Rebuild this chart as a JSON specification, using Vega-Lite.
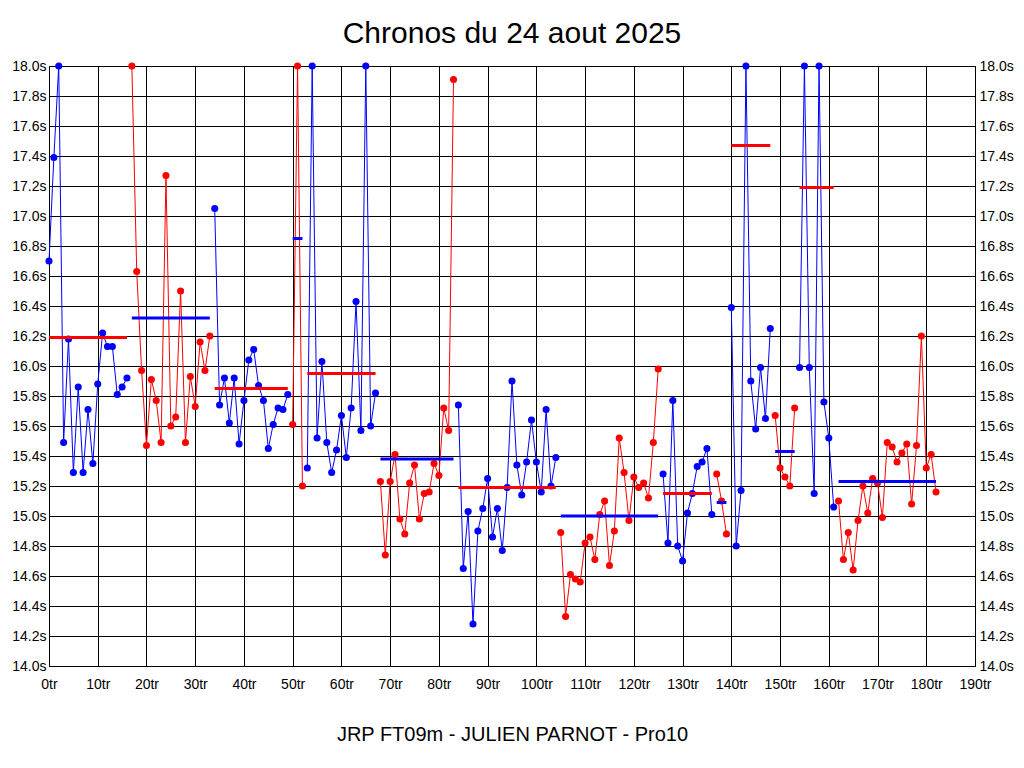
{
  "$schema": "https://vega.github.io/schema/vega-lite/v6.json",
  "width": 926,
  "height": 600,
  "autosize": {"type": "none"},
  "padding": {"left": 49, "top": 66, "right": 49, "bottom": 102},
  "background": "white",
  "title": {
    "text": "Chronos du 24 aout 2025",
    "fontSize": 30,
    "font": "Liberation Sans",
    "fontWeight": "normal",
    "color": "black",
    "anchor": "middle",
    "offset": 10
  },
  "config": {
    "font": "Liberation Sans",
    "view": {"stroke": "black", "strokeWidth": 1},
    "axis": {
      "gridColor": "black",
      "gridOpacity": 1,
      "gridWidth": 1,
      "ticks": false,
      "domain": false,
      "labelFont": "Liberation Sans",
      "labelFontSize": 14,
      "labelColor": "black",
      "labelFlush": false,
      "labelOverlap": false,
      "labelBound": false,
      "titleColor": "black",
      "titleFont": "Liberation Sans"
    }
  },
  "datasets": {
    "laps": [
      {"lap": 0, "t": 16.70, "seg": 1, "c": "b"},
      {"lap": 1, "t": 17.39, "seg": 1, "c": "b"},
      {"lap": 2, "t": 18.00, "seg": 1, "c": "b"},
      {"lap": 3, "t": 15.49, "seg": 1, "c": "b"},
      {"lap": 4, "t": 16.18, "seg": 1, "c": "b"},
      {"lap": 5, "t": 15.29, "seg": 1, "c": "b"},
      {"lap": 6, "t": 15.86, "seg": 1, "c": "b"},
      {"lap": 7, "t": 15.29, "seg": 1, "c": "b"},
      {"lap": 8, "t": 15.71, "seg": 1, "c": "b"},
      {"lap": 9, "t": 15.35, "seg": 1, "c": "b"},
      {"lap": 10, "t": 15.88, "seg": 1, "c": "b"},
      {"lap": 11, "t": 16.22, "seg": 1, "c": "b"},
      {"lap": 12, "t": 16.13, "seg": 1, "c": "b"},
      {"lap": 13, "t": 16.13, "seg": 1, "c": "b"},
      {"lap": 14, "t": 15.81, "seg": 1, "c": "b"},
      {"lap": 15, "t": 15.86, "seg": 1, "c": "b"},
      {"lap": 16, "t": 15.92, "seg": 1, "c": "b"},
      {"lap": 17, "t": 18.00, "seg": 2, "c": "r"},
      {"lap": 18, "t": 16.63, "seg": 2, "c": "r"},
      {"lap": 19, "t": 15.97, "seg": 2, "c": "r"},
      {"lap": 20, "t": 15.47, "seg": 2, "c": "r"},
      {"lap": 21, "t": 15.91, "seg": 2, "c": "r"},
      {"lap": 22, "t": 15.77, "seg": 2, "c": "r"},
      {"lap": 23, "t": 15.49, "seg": 2, "c": "r"},
      {"lap": 24, "t": 17.27, "seg": 2, "c": "r"},
      {"lap": 25, "t": 15.60, "seg": 2, "c": "r"},
      {"lap": 26, "t": 15.66, "seg": 2, "c": "r"},
      {"lap": 27, "t": 16.50, "seg": 2, "c": "r"},
      {"lap": 28, "t": 15.49, "seg": 2, "c": "r"},
      {"lap": 29, "t": 15.93, "seg": 2, "c": "r"},
      {"lap": 30, "t": 15.73, "seg": 2, "c": "r"},
      {"lap": 31, "t": 16.16, "seg": 2, "c": "r"},
      {"lap": 32, "t": 15.97, "seg": 2, "c": "r"},
      {"lap": 33, "t": 16.20, "seg": 2, "c": "r"},
      {"lap": 34, "t": 17.05, "seg": 3, "c": "b"},
      {"lap": 35, "t": 15.74, "seg": 3, "c": "b"},
      {"lap": 36, "t": 15.92, "seg": 3, "c": "b"},
      {"lap": 37, "t": 15.62, "seg": 3, "c": "b"},
      {"lap": 38, "t": 15.92, "seg": 3, "c": "b"},
      {"lap": 39, "t": 15.48, "seg": 3, "c": "b"},
      {"lap": 40, "t": 15.77, "seg": 3, "c": "b"},
      {"lap": 41, "t": 16.04, "seg": 3, "c": "b"},
      {"lap": 42, "t": 16.11, "seg": 3, "c": "b"},
      {"lap": 43, "t": 15.87, "seg": 3, "c": "b"},
      {"lap": 44, "t": 15.77, "seg": 3, "c": "b"},
      {"lap": 45, "t": 15.45, "seg": 3, "c": "b"},
      {"lap": 46, "t": 15.61, "seg": 3, "c": "b"},
      {"lap": 47, "t": 15.72, "seg": 3, "c": "b"},
      {"lap": 48, "t": 15.71, "seg": 3, "c": "b"},
      {"lap": 49, "t": 15.81, "seg": 3, "c": "b"},
      {"lap": 50, "t": 15.61, "seg": 4, "c": "r"},
      {"lap": 51, "t": 18.00, "seg": 4, "c": "r"},
      {"lap": 52, "t": 15.20, "seg": 4, "c": "r"},
      {"lap": 53, "t": 15.32, "seg": 5, "c": "b"},
      {"lap": 54, "t": 18.00, "seg": 5, "c": "b"},
      {"lap": 55, "t": 15.52, "seg": 5, "c": "b"},
      {"lap": 56, "t": 16.03, "seg": 5, "c": "b"},
      {"lap": 57, "t": 15.49, "seg": 5, "c": "b"},
      {"lap": 58, "t": 15.29, "seg": 5, "c": "b"},
      {"lap": 59, "t": 15.44, "seg": 5, "c": "b"},
      {"lap": 60, "t": 15.67, "seg": 5, "c": "b"},
      {"lap": 61, "t": 15.39, "seg": 5, "c": "b"},
      {"lap": 62, "t": 15.72, "seg": 5, "c": "b"},
      {"lap": 63, "t": 16.43, "seg": 5, "c": "b"},
      {"lap": 64, "t": 15.57, "seg": 5, "c": "b"},
      {"lap": 65, "t": 18.00, "seg": 5, "c": "b"},
      {"lap": 66, "t": 15.60, "seg": 5, "c": "b"},
      {"lap": 67, "t": 15.82, "seg": 5, "c": "b"},
      {"lap": 68, "t": 15.23, "seg": 6, "c": "r"},
      {"lap": 69, "t": 14.74, "seg": 6, "c": "r"},
      {"lap": 70, "t": 15.23, "seg": 6, "c": "r"},
      {"lap": 71, "t": 15.41, "seg": 6, "c": "r"},
      {"lap": 72, "t": 14.98, "seg": 6, "c": "r"},
      {"lap": 73, "t": 14.88, "seg": 6, "c": "r"},
      {"lap": 74, "t": 15.22, "seg": 6, "c": "r"},
      {"lap": 75, "t": 15.34, "seg": 6, "c": "r"},
      {"lap": 76, "t": 14.98, "seg": 6, "c": "r"},
      {"lap": 77, "t": 15.15, "seg": 6, "c": "r"},
      {"lap": 78, "t": 15.16, "seg": 6, "c": "r"},
      {"lap": 79, "t": 15.35, "seg": 6, "c": "r"},
      {"lap": 80, "t": 15.27, "seg": 6, "c": "r"},
      {"lap": 81, "t": 15.72, "seg": 6, "c": "r"},
      {"lap": 82, "t": 15.57, "seg": 6, "c": "r"},
      {"lap": 83, "t": 17.91, "seg": 6, "c": "r"},
      {"lap": 84, "t": 15.74, "seg": 7, "c": "b"},
      {"lap": 85, "t": 14.65, "seg": 7, "c": "b"},
      {"lap": 86, "t": 15.03, "seg": 7, "c": "b"},
      {"lap": 87, "t": 14.28, "seg": 7, "c": "b"},
      {"lap": 88, "t": 14.90, "seg": 7, "c": "b"},
      {"lap": 89, "t": 15.05, "seg": 7, "c": "b"},
      {"lap": 90, "t": 15.25, "seg": 7, "c": "b"},
      {"lap": 91, "t": 14.86, "seg": 7, "c": "b"},
      {"lap": 92, "t": 15.05, "seg": 7, "c": "b"},
      {"lap": 93, "t": 14.77, "seg": 7, "c": "b"},
      {"lap": 94, "t": 15.19, "seg": 7, "c": "b"},
      {"lap": 95, "t": 15.90, "seg": 7, "c": "b"},
      {"lap": 96, "t": 15.34, "seg": 7, "c": "b"},
      {"lap": 97, "t": 15.14, "seg": 7, "c": "b"},
      {"lap": 98, "t": 15.36, "seg": 7, "c": "b"},
      {"lap": 99, "t": 15.64, "seg": 7, "c": "b"},
      {"lap": 100, "t": 15.36, "seg": 7, "c": "b"},
      {"lap": 101, "t": 15.16, "seg": 7, "c": "b"},
      {"lap": 102, "t": 15.71, "seg": 7, "c": "b"},
      {"lap": 103, "t": 15.20, "seg": 7, "c": "b"},
      {"lap": 104, "t": 15.39, "seg": 7, "c": "b"},
      {"lap": 105, "t": 14.89, "seg": 8, "c": "r"},
      {"lap": 106, "t": 14.33, "seg": 8, "c": "r"},
      {"lap": 107, "t": 14.61, "seg": 8, "c": "r"},
      {"lap": 108, "t": 14.58, "seg": 8, "c": "r"},
      {"lap": 109, "t": 14.56, "seg": 8, "c": "r"},
      {"lap": 110, "t": 14.82, "seg": 8, "c": "r"},
      {"lap": 111, "t": 14.86, "seg": 8, "c": "r"},
      {"lap": 112, "t": 14.71, "seg": 8, "c": "r"},
      {"lap": 113, "t": 15.01, "seg": 8, "c": "r"},
      {"lap": 114, "t": 15.10, "seg": 8, "c": "r"},
      {"lap": 115, "t": 14.67, "seg": 8, "c": "r"},
      {"lap": 116, "t": 14.90, "seg": 8, "c": "r"},
      {"lap": 117, "t": 15.52, "seg": 8, "c": "r"},
      {"lap": 118, "t": 15.29, "seg": 8, "c": "r"},
      {"lap": 119, "t": 14.97, "seg": 8, "c": "r"},
      {"lap": 120, "t": 15.26, "seg": 8, "c": "r"},
      {"lap": 121, "t": 15.19, "seg": 8, "c": "r"},
      {"lap": 122, "t": 15.22, "seg": 8, "c": "r"},
      {"lap": 123, "t": 15.12, "seg": 8, "c": "r"},
      {"lap": 124, "t": 15.49, "seg": 8, "c": "r"},
      {"lap": 125, "t": 15.98, "seg": 8, "c": "r"},
      {"lap": 126, "t": 15.28, "seg": 9, "c": "b"},
      {"lap": 127, "t": 14.82, "seg": 9, "c": "b"},
      {"lap": 128, "t": 15.77, "seg": 9, "c": "b"},
      {"lap": 129, "t": 14.80, "seg": 9, "c": "b"},
      {"lap": 130, "t": 14.70, "seg": 9, "c": "b"},
      {"lap": 131, "t": 15.02, "seg": 9, "c": "b"},
      {"lap": 132, "t": 15.15, "seg": 9, "c": "b"},
      {"lap": 133, "t": 15.33, "seg": 9, "c": "b"},
      {"lap": 134, "t": 15.36, "seg": 9, "c": "b"},
      {"lap": 135, "t": 15.45, "seg": 9, "c": "b"},
      {"lap": 136, "t": 15.01, "seg": 9, "c": "b"},
      {"lap": 137, "t": 15.28, "seg": 10, "c": "r"},
      {"lap": 138, "t": 15.10, "seg": 10, "c": "r"},
      {"lap": 139, "t": 14.88, "seg": 10, "c": "r"},
      {"lap": 140, "t": 16.39, "seg": 11, "c": "b"},
      {"lap": 141, "t": 14.80, "seg": 11, "c": "b"},
      {"lap": 142, "t": 15.17, "seg": 11, "c": "b"},
      {"lap": 143, "t": 18.00, "seg": 11, "c": "b"},
      {"lap": 144, "t": 15.90, "seg": 11, "c": "b"},
      {"lap": 145, "t": 15.58, "seg": 11, "c": "b"},
      {"lap": 146, "t": 15.99, "seg": 11, "c": "b"},
      {"lap": 147, "t": 15.65, "seg": 11, "c": "b"},
      {"lap": 148, "t": 16.25, "seg": 11, "c": "b"},
      {"lap": 149, "t": 15.67, "seg": 12, "c": "r"},
      {"lap": 150, "t": 15.32, "seg": 12, "c": "r"},
      {"lap": 151, "t": 15.26, "seg": 12, "c": "r"},
      {"lap": 152, "t": 15.20, "seg": 12, "c": "r"},
      {"lap": 153, "t": 15.72, "seg": 12, "c": "r"},
      {"lap": 154, "t": 15.99, "seg": 13, "c": "b"},
      {"lap": 155, "t": 18.00, "seg": 13, "c": "b"},
      {"lap": 156, "t": 15.99, "seg": 13, "c": "b"},
      {"lap": 157, "t": 15.15, "seg": 13, "c": "b"},
      {"lap": 158, "t": 18.00, "seg": 13, "c": "b"},
      {"lap": 159, "t": 15.76, "seg": 13, "c": "b"},
      {"lap": 160, "t": 15.52, "seg": 13, "c": "b"},
      {"lap": 161, "t": 15.06, "seg": 13, "c": "b"},
      {"lap": 162, "t": 15.10, "seg": 14, "c": "r"},
      {"lap": 163, "t": 14.71, "seg": 14, "c": "r"},
      {"lap": 164, "t": 14.89, "seg": 14, "c": "r"},
      {"lap": 165, "t": 14.64, "seg": 14, "c": "r"},
      {"lap": 166, "t": 14.97, "seg": 14, "c": "r"},
      {"lap": 167, "t": 15.20, "seg": 14, "c": "r"},
      {"lap": 168, "t": 15.02, "seg": 14, "c": "r"},
      {"lap": 169, "t": 15.25, "seg": 14, "c": "r"},
      {"lap": 170, "t": 15.22, "seg": 14, "c": "r"},
      {"lap": 171, "t": 14.99, "seg": 14, "c": "r"},
      {"lap": 172, "t": 15.49, "seg": 14, "c": "r"},
      {"lap": 173, "t": 15.46, "seg": 14, "c": "r"},
      {"lap": 174, "t": 15.36, "seg": 14, "c": "r"},
      {"lap": 175, "t": 15.42, "seg": 14, "c": "r"},
      {"lap": 176, "t": 15.48, "seg": 14, "c": "r"},
      {"lap": 177, "t": 15.08, "seg": 14, "c": "r"},
      {"lap": 178, "t": 15.47, "seg": 14, "c": "r"},
      {"lap": 179, "t": 16.20, "seg": 14, "c": "r"},
      {"lap": 180, "t": 15.32, "seg": 14, "c": "r"},
      {"lap": 181, "t": 15.41, "seg": 14, "c": "r"},
      {"lap": 182, "t": 15.16, "seg": 14, "c": "r"}
    ],
    "means": [
      {"start": 0, "end": 16, "t": 16.19, "c": "r"},
      {"start": 17, "end": 33, "t": 16.32, "c": "b"},
      {"start": 34, "end": 49, "t": 15.85, "c": "r"},
      {"start": 50, "end": 52, "t": 16.85, "c": "b"},
      {"start": 53, "end": 67, "t": 15.95, "c": "r"},
      {"start": 68, "end": 83, "t": 15.38, "c": "b"},
      {"start": 84, "end": 104, "t": 15.19, "c": "r"},
      {"start": 105, "end": 125, "t": 15.00, "c": "b"},
      {"start": 126, "end": 136, "t": 15.15, "c": "r"},
      {"start": 137, "end": 139, "t": 15.09, "c": "b"},
      {"start": 140, "end": 148, "t": 17.47, "c": "r"},
      {"start": 149, "end": 153, "t": 15.43, "c": "b"},
      {"start": 154, "end": 161, "t": 17.19, "c": "r"},
      {"start": 162, "end": 182, "t": 15.23, "c": "b"}
    ]
  },
  "layer": [
    {
      "data": {"name": "laps"},
      "mark": {"type": "line", "strokeWidth": 1},
      "encoding": {
        "x": {
          "field": "lap", "type": "quantitative",
          "scale": {"domain": [0, 190], "nice": false, "zero": false},
          "axis": {
            "values": [0,10,20,30,40,50,60,70,80,90,100,110,120,130,140,150,160,170,180,190],
            "labelExpr": "datum.value + 'tr'",
            "labelPadding": 11,
            "title": "JRP FT09m - JULIEN PARNOT - Pro10",
            "titleFontSize": 20,
            "titleFontWeight": "normal",
            "titlePadding": 33
          }
        },
        "y": {
          "field": "t", "type": "quantitative",
          "scale": {"domain": [14, 18], "nice": false, "zero": false, "clamp": true},
          "axis": {
            "orient": "left",
            "values": [14,14.2,14.4,14.6,14.8,15,15.2,15.4,15.6,15.8,16,16.2,16.4,16.6,16.8,17,17.2,17.4,17.6,17.8,18],
            "labelExpr": "format(datum.value, '.1f') + 's'",
            "labelPadding": 3,
            "title": null
          }
        },
        "color": {"field": "c", "type": "nominal", "scale": {"domain": ["b", "r"], "range": ["#0000ff", "#ff0000"]}, "legend": null},
        "detail": {"field": "seg", "type": "nominal"}
      }
    },
    {
      "data": {"name": "laps"},
      "mark": {"type": "point", "filled": true, "opacity": 1, "size": 50, "shape": "circle"},
      "encoding": {
        "x": {"field": "lap", "type": "quantitative"},
        "y": {"field": "t", "type": "quantitative", "axis": null},
        "color": {"field": "c", "type": "nominal", "legend": null}
      }
    },
    {
      "data": {"name": "means"},
      "mark": {"type": "rule", "strokeWidth": 3},
      "encoding": {
        "x": {"field": "start", "type": "quantitative"},
        "x2": {"field": "end"},
        "y": {
          "field": "t", "type": "quantitative",
          "axis": {
            "orient": "right",
            "values": [14,14.2,14.4,14.6,14.8,15,15.2,15.4,15.6,15.8,16,16.2,16.4,16.6,16.8,17,17.2,17.4,17.6,17.8,18],
            "labelExpr": "format(datum.value, '.1f') + 's'",
            "labelPadding": 4,
            "grid": false,
            "title": null
          }
        },
        "color": {"field": "c", "type": "nominal", "legend": null}
      }
    }
  ],
  "resolve": {"axis": {"y": "independent"}}
}
